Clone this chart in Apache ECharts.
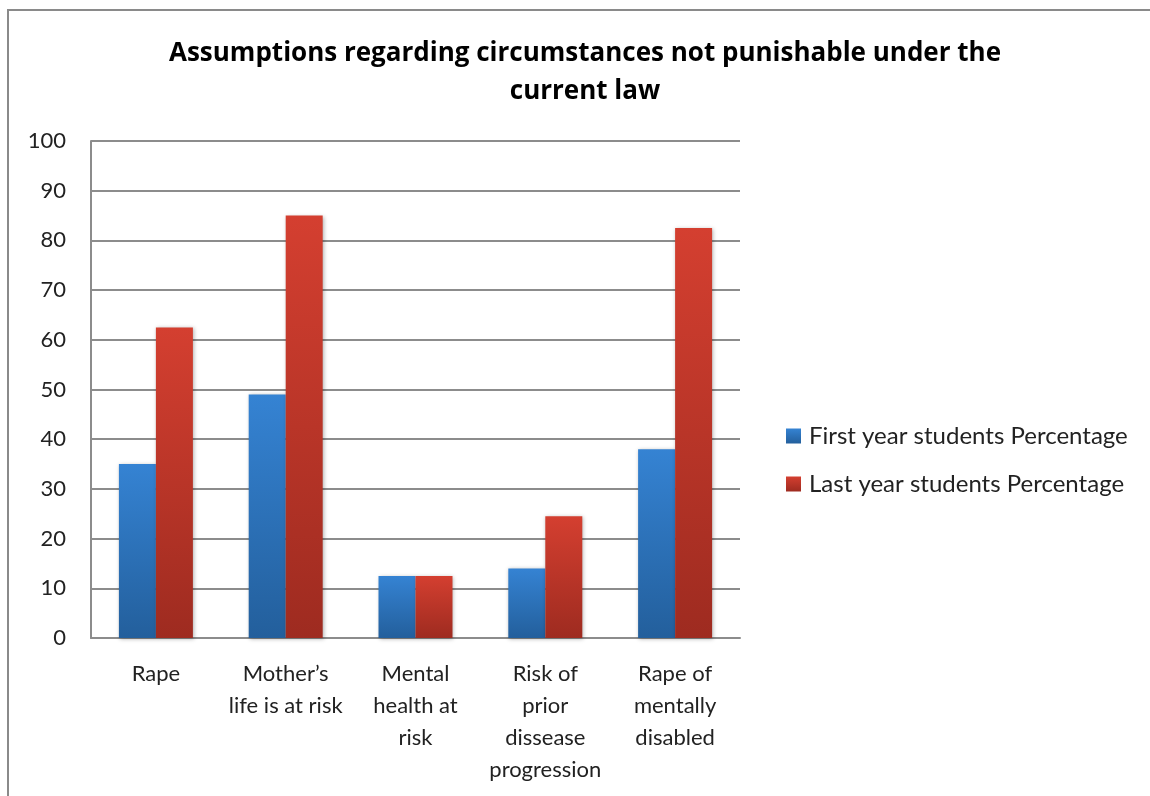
<!DOCTYPE html>
<html>
<head>
<meta charset="utf-8">
<script src="https://cdn.jsdelivr.net/npm/echarts@6/dist/echarts.min.js"></script>
<style>
html,body{margin:0;padding:0;background:#fff;}
#chart{width:1150px;height:796px;}
</style>
</head>
<body>
<div id="chart"></div>
<script>
const titleText = 'Assumptions regarding circumstances not punishable under the\ncurrent law';
const categories = ['Rape', 'Mother’s\nlife is at risk', 'Mental\nhealth at\nrisk', 'Risk of\nprior\ndissease\nprogression', 'Rape of\nmentally\ndisabled'];
const seriesNames = ['First year students Percentage', 'Last year students Percentage'];
const firstYear = [35, 49, 12.5, 14, 38];
const lastYear = [62.5, 85, 12.5, 24.5, 82.5];
const yTicks = [0, 10, 20, 30, 40, 50, 60, 70, 80, 90, 100];

const FONT = 'Lato';
const chart = echarts.init(document.getElementById('chart'));

function grad(top, bottom) {
  return new echarts.graphic.LinearGradient(0, 0, 0, 1, [
    {offset: 0, color: top}, {offset: 1, color: bottom}
  ]);
}

chart.setOption({
  backgroundColor: '#fff',
  animation: false,
  graphic: [{
    type: 'rect',
    shape: {x: 8, y: 10, width: 1200, height: 900},
    style: {fill: 'none', stroke: '#8a8a8a', lineWidth: 2},
    silent: true
  }],
  title: {
    text: titleText,
    left: 580,
    textAlign: 'center',
    top: 30,
    textStyle: {fontFamily: 'Open Sans', fontWeight: 'bold', fontSize: 26, lineHeight: 38, color: '#000'}
  },
  legend: {
    orient: 'vertical',
    left: 781,
    top: 419,
    itemWidth: 15,
    itemHeight: 15,
    itemGap: 24,
    icon: 'rect',
    textStyle: {fontFamily: FONT, fontSize: 24, color: '#222', padding: [0, 0, 0, 3]},
    data: seriesNames
  },
  grid: {left: 91, right: 410, top: 141, bottom: 158, containLabel: false},
  xAxis: {
    type: 'category',
    data: categories,
    axisLine: {lineStyle: {color: '#8c8c8c', width: 2}},
    axisTick: {show: false},
    axisLabel: {fontFamily: FONT, fontSize: 22, lineHeight: 32, color: '#222', margin: 20, interval: 0}
  },
  yAxis: {
    type: 'value',
    min: yTicks[0],
    max: yTicks[yTicks.length - 1],
    interval: 10,
    axisLine: {show: true, lineStyle: {color: '#8c8c8c', width: 2}},
    axisTick: {show: false},
    splitLine: {lineStyle: {color: '#8c8c8c', width: 2}},
    axisLabel: {fontFamily: FONT, fontSize: 22, color: '#222', margin: 25}
  },
  series: [{
    name: seriesNames[0],
    type: 'bar',
    data: firstYear,
    barGap: '0%',
    barCategoryGap: '43%',
    itemStyle: {color: grad('#3583d3', '#235f9c'), shadowColor: 'rgba(0,0,0,0.3)', shadowBlur: 4, shadowOffsetX: 1, shadowOffsetY: 1}
  }, {
    name: seriesNames[1],
    type: 'bar',
    data: lastYear,
    itemStyle: {color: grad('#d43f30', '#9e2b20'), shadowColor: 'rgba(0,0,0,0.3)', shadowBlur: 4, shadowOffsetX: 1, shadowOffsetY: 1}
  }]
});
</script>
</body>
</html>
